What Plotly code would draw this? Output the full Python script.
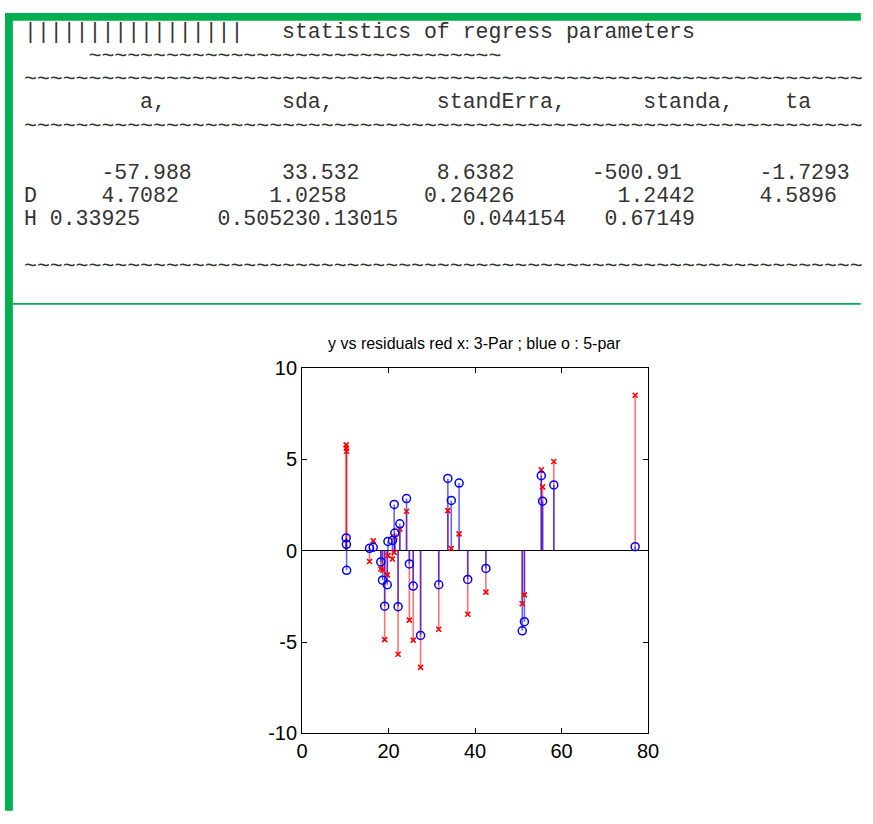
import plotly.graph_objects as go

# Figure drawn inside the page's default 8px body margin
OFF = 8
W, H = 865, 816

# ---------------- data ----------------
x_vals = [10.2, 10.25, 10.3, 15.6, 16.45, 18.2, 18.6, 19.1, 19.7, 19.85, 20.9, 21.3, 21.45,
          22.2, 22.6, 24.15, 24.8, 25.7, 27.4, 31.6, 33.7, 34.5, 36.3, 38.3, 42.5,
          50.9, 51.4, 55.3, 55.6, 58.2, 77.0]
res_5par = [0.69, 0.34, -1.08, 0.12, 0.18, -0.62, -1.62, -3.04, -1.87, 0.50, 0.55, 2.52, 0.96,
            -3.07, 1.46, 2.84, -0.73, -1.94, -4.64, -1.87, 3.94, 2.74, 3.69, -1.58, -0.98,
            -4.39, -3.89, 4.09, 2.70, 3.59, 0.21]
res_3par = [5.78, 5.60, 5.43, -0.60, 0.53, -1.01, -1.08, -4.87, -1.33, -0.28, -0.46, -0.10, 0.74,
            -5.67, 1.17, 2.15, -3.80, -4.90, -6.39, -4.30, 2.18, 0.11, 0.91, -3.48, -2.27,
            -2.91, -2.42, 4.42, 3.48, 4.87, 8.49]
x_ticks = [0, 20, 40, 60, 80]
x_ticklabels = ["0", "20", "40", "60", "80"]
y_ticks = [-10, -5, 0, 5, 10]
y_ticklabels = ["-10", "-5", "0", "5", "10"]
chart_title = "y vs residuals red x: 3-Par ; blue o : 5-par"

header_lines = [
    "|" * 17 + "   statistics of regress parameters",
    "     " + "~" * 32,
    "~" * 65,
    "         a,         sda,        standErra,      standa,    ta",
    "~" * 65,
    "",
    "      -57.988       33.532      8.6382      -500.91      -1.7293",
    "D     4.7082       1.0258      0.26426        1.2442     4.5896",
    "H 0.33925      0.505230.13015     0.044154   0.67149",
    "",
    "~" * 65,
]

# ---------------- helpers (target page pixels -> paper) ----------------
def px(x):
    return (x - OFF) / W

def py(y):
    return 1 - (y - OFF) / H

def stems(xs, ys):
    sx, sy = [], []
    for a, b in zip(xs, ys):
        sx += [a, a, None]
        sy += [0, b, None]
    return sx, sy

fig = go.Figure()

rsx, rsy = stems(x_vals, res_3par)
bsx, bsy = stems(x_vals, res_5par)
fig.add_trace(go.Scatter(x=rsx, y=rsy, mode="lines",
                         line=dict(color="rgba(255,0,0,0.55)", width=1.6),
                         hoverinfo="skip", showlegend=False))
fig.add_trace(go.Scatter(x=bsx, y=bsy, mode="lines",
                         line=dict(color="rgba(0,0,255,0.6)", width=1.6),
                         hoverinfo="skip", showlegend=False))
fig.add_trace(go.Scatter(x=x_vals, y=res_3par, mode="markers",
                         marker=dict(symbol="x-thin", size=5, color="red",
                                     line=dict(color="red", width=1.6)),
                         showlegend=False))
fig.add_trace(go.Scatter(x=x_vals, y=res_5par, mode="markers",
                         marker=dict(symbol="circle-open", size=8, color="blue",
                                     line=dict(color="blue", width=1.5)),
                         showlegend=False))

sans = "Liberation Sans Narrow, Arial Narrow, Liberation Sans, Arial, sans-serif"

# axes position in target pixels
ax_l, ax_r, ax_t, ax_b = 310, 663, 374.5, 750.5

fig.update_layout(
    width=W, height=H, autosize=False,
    margin=dict(l=0, r=0, t=0, b=0),
    paper_bgcolor="white", plot_bgcolor="white",
    xaxis=dict(domain=[px(ax_l), px(ax_r)], range=[0, 80], tickvals=x_ticks,
               ticktext=x_ticklabels,
               ticks="inside", ticklen=5, tickcolor="black", showline=True,
               linecolor="black", linewidth=1, mirror="allticks", showgrid=False,
               zeroline=False, tickfont=dict(family=sans, size=20, color="black")),
    yaxis=dict(domain=[py(ax_b), py(ax_t)], range=[-10, 10], tickvals=y_ticks,
               ticktext=y_ticklabels,
               ticks="inside", ticklen=5, tickcolor="black", showline=True,
               linecolor="black", linewidth=1, mirror="allticks", showgrid=False,
               zeroline=True, zerolinecolor="black", zerolinewidth=1.2,
               tickfont=dict(family=sans, size=20, color="black")),
    showlegend=False,
)

# green frame
green = "#00B050"
fig.add_shape(type="rect", xref="paper", yref="paper", x0=px(7), x1=px(15), y0=py(830), y1=py(10),
              fillcolor=green, line=dict(width=0), layer="above")
fig.add_shape(type="rect", xref="paper", yref="paper", x0=px(7), x1=px(880), y0=py(18), y1=py(10),
              fillcolor=green, line=dict(width=0), layer="above")
fig.add_shape(type="rect", xref="paper", yref="paper", x0=px(15), x1=px(880), y0=py(310), y1=py(308),
              fillcolor=green, line=dict(width=0), layer="above")

# monospace text block
for i, line in enumerate(header_lines):
    if not line:
        continue
    fig.add_annotation(xref="paper", yref="paper", x=px(24.2), y=py(30 + 24 * i),
                       xanchor="left", yanchor="middle", showarrow=False,
                       text=line.replace(" ", "&nbsp;"),
                       font=dict(family="Liberation Mono, Courier New, monospace",
                                 size=21.5, color="#333333"))

# chart title
fig.add_annotation(xref="paper", yref="paper", x=px(486), y=py(350),
                   xanchor="center", yanchor="middle", showarrow=False,
                   text=chart_title,
                   font=dict(family=sans, size=16, color="black"))

fig.write_html("out.html")
